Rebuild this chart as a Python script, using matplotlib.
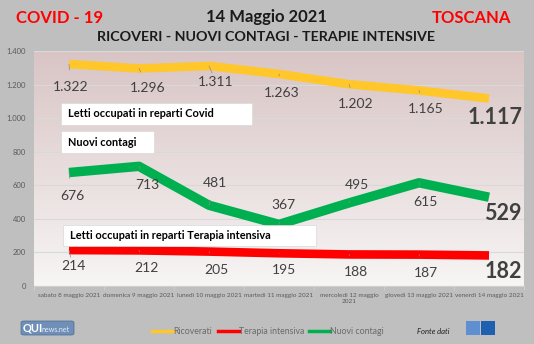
import numpy as np
import matplotlib.pyplot as plt
from matplotlib.patches import Rectangle, FancyBboxPatch
from matplotlib.lines import Line2D
from matplotlib.ticker import FuncFormatter

plt.rcParams['font.family'] = ['Lato', 'DejaVu Sans']

giorni = ['sabato 8 maggio 2021', 'domenica 9 maggio 2021', 'lunedì 10 maggio 2021',
          'martedì 11 maggio 2021', 'mercoledì 12 maggio\n2021', 'giovedì 13 maggio 2021',
          'venerdì 14 maggio 2021']
ricoverati = [1322, 1296, 1311, 1263, 1202, 1165, 1117]
nuovi_contagi = [676, 713, 481, 367, 495, 615, 529]
terapia_intensiva = [214, 212, 205, 195, 188, 187, 182]

W, H = 534, 344
BG = '#bfbfbf'
YELLOW = '#ffc72a'
RED = '#ff0000'
GREEN = '#00b050'

fig = plt.figure(figsize=(W / 100, H / 100), dpi=100, facecolor=BG)


def fx(x):
    return x / W


def fy(y):
    return 1 - y / H


ax = fig.add_axes([fx(34), fy(286), (524 - 34) / W, (286 - 51) / H])
ax.set_facecolor(BG)

# gradient background of plot area
grad = np.linspace(0, 1, 256).reshape(-1, 1)
top = np.array([0.97, 0.96, 0.96])
bot = np.array([0.85, 0.77, 0.77])
img = top + (bot - top) * grad[..., None]
ax.imshow(img, extent=[-0.5, 6.5, 1400, 0], aspect='auto', zorder=0)

ax.set_xlim(-0.5, 6.5)
ax.set_ylim(0, 1400)
ax.set_yticks(range(0, 1401, 200))
ax.yaxis.set_major_formatter(FuncFormatter(lambda v, p: f'{int(v):,}'.replace(',', '.')))
ax.grid(axis='y', color='#d9d9d9', lw=0.8, zorder=1)
for s in ['top', 'right', 'left']:
    ax.spines[s].set_visible(False)
ax.spines['bottom'].set_color('#d0d0d0')
ax.tick_params(axis='y', length=0, labelsize=5.5, labelcolor='#5a5a5a', pad=6)
x = np.arange(len(giorni))
ax.set_xticks(x)
ax.set_xticklabels(giorni, fontsize=4.6, color='#5a5a5a')
ax.tick_params(axis='x', length=0, pad=5)
ax.set_xticks(np.arange(-0.5, 7, 1), minor=True)
ax.tick_params(axis='x', which='minor', length=3, color='#d0d0d0')

ax.plot(x, ricoverati, color=YELLOW, lw=6.2, solid_capstyle='butt', zorder=3)
ax.plot(x, nuovi_contagi, color=GREEN, lw=6.8, solid_capstyle='butt', zorder=3)
ax.plot(x, terapia_intensiva, color=RED, lw=6.2, solid_capstyle='butt', zorder=3)

# data label offsets in pixels (dx, dy)
off_r = [(2, -23), (9, -20), (7, -16), (3, -19), (7, -20), (7, -19)]
off_g = [(3, -23), (8, -19), (6, 22), (4, 19), (8, 18), (6, -19)]
off_t = [(4, -16), (7, -18), (7, -18), (5, -17), (7, -18), (7, -18)]
off_last = [(6, -19), (14, -16), (14, -16)]


def fmt(v):
    return f'{v:,}'.replace(',', '.')


series = [(ricoverati, off_r), (nuovi_contagi, off_g), (terapia_intensiva, off_t)]
for k, (serie, offs) in enumerate(series):
    for i, (dx, dy) in enumerate(offs):
        ax.annotate(fmt(serie[i]), (x[i], serie[i]), xytext=(dx, dy),
                    textcoords='offset pixels', ha='center', va='center',
                    fontsize=10, color='#404040', zorder=5,
                    arrowprops=dict(arrowstyle='-', color='#8c8c8c', lw=0.5,
                                    shrinkA=6, shrinkB=0))
    ax.annotate(fmt(serie[-1]), (x[-1], serie[-1]), xytext=off_last[k],
                textcoords='offset pixels', ha='center', va='center',
                fontsize=15.5, fontweight='bold', color='#404040', zorder=5)

# text boxes
boxes = [(61, 103, 252, 125, 'Letti occupati in reparti Covid'),
         (61, 131, 154, 153, 'Nuovi contagi'),
         (63, 225, 316, 246, 'Letti occupati in reparti Terapia intensiva')]
for x0, y0, x1, y1, t in boxes:
    fig.patches.append(Rectangle((fx(x0), fy(y1)), fx(x1 - x0), (y1 - y0) / H,
                                 transform=fig.transFigure, facecolor='white',
                                 edgecolor='#d9d9d9', lw=0.5, zorder=6))
    fig.text(fx(x0 + 7), fy((y0 + y1) / 2), t, fontsize=7.9, fontweight='bold',
             color='black', ha='left', va='center', zorder=7)

# titles
fig.text(fx(16), fy(18), 'COVID - 19', color='red', fontsize=12, fontweight='bold',
         ha='left', va='center')
fig.text(fx(511), fy(18), 'TOSCANA', color='red', fontsize=12, fontweight='bold',
         ha='right', va='center')
fig.text(fx(266), fy(17), '14 Maggio 2021', color='#1a1a1a', fontsize=12,
         fontweight='bold', ha='center', va='center')
fig.text(fx(266), fy(37), 'RICOVERI - NUOVI CONTAGI - TERAPIE INTENSIVE', color='#1a1a1a',
         fontsize=10.3, fontweight='bold', ha='center', va='center')

# legend
legend = [(152, YELLOW, 'Ricoverati'), (218, RED, 'Terapia intensiva'),
          (309, GREEN, 'Nuovi contagi')]
for lx, c, t in legend:
    fig.lines.append(Line2D([fx(lx), fx(lx + 21)], [fy(331), fy(331)],
                            transform=fig.transFigure, color=c, lw=2.5))
    fig.text(fx(lx + 21), fy(331), t, fontsize=6.3, color='#6a6a6a', ha='left', va='center')
fig.text(fx(417), fy(332), 'Fonte dati', fontsize=5.5, style='italic', color='#202020',
         ha='left', va='center')

# logos
fig.patches.append(FancyBboxPatch((fx(21), fy(335)), fx(53), 14 / H,
                                  boxstyle='round,pad=0,rounding_size=0.005',
                                  transform=fig.transFigure, facecolor='#6f8fb8',
                                  edgecolor='#4a6a94', lw=0.5))
fig.text(fx(23), fy(328), 'QUI', fontsize=8, fontweight='bold', color='white',
         ha='left', va='center')
fig.text(fx(42), fy(329), 'news.net', fontsize=5, color='#e8eef6', ha='left', va='center')
fig.patches.append(Rectangle((fx(466), fy(335)), fx(14), 14 / H, transform=fig.transFigure,
                             facecolor='#5f8fd0', edgecolor='none'))
fig.patches.append(Rectangle((fx(481), fy(335)), fx(14), 14 / H, transform=fig.transFigure,
                             facecolor='#1f5fb0', edgecolor='none'))

fig.savefig('out.png', dpi=100, facecolor=BG)
